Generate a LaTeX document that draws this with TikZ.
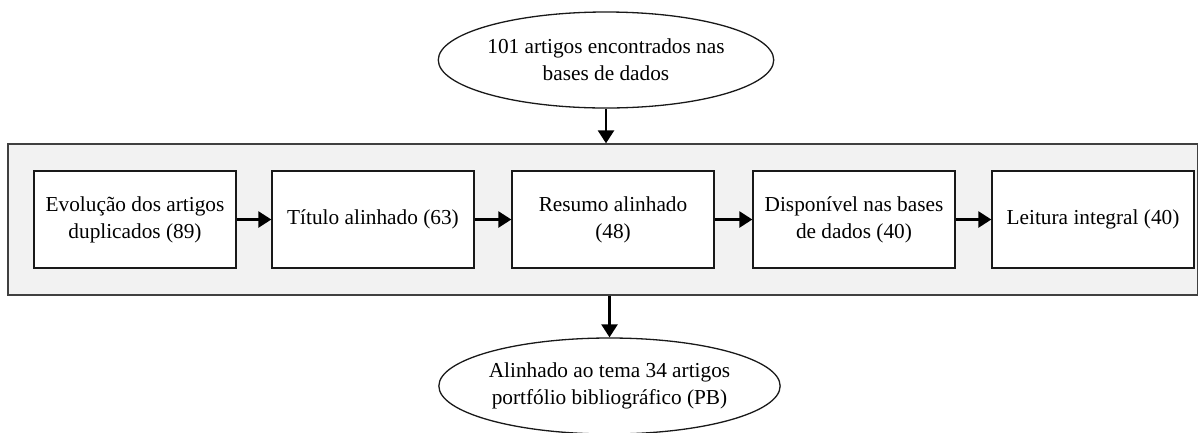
\documentclass[tikz,border=0pt]{standalone}
\usepackage{fontspec}
\setmainfont{Liberation Serif}
\usetikzlibrary{shapes.geometric,arrows.meta}
\tikzset{
  texto/.style={font=\fontsize{21.3}{27}\selectfont, align=center},
  fundo/.style={draw=black!75, fill=black!5, line width=1.3pt,
                minimum width=1190pt, minimum height=151pt, inner sep=0pt},
  etapa/.style={texto, draw=black!90, fill=white, line width=1.3pt,
                minimum width=202pt, minimum height=97pt, inner sep=0pt},
  oval/.style={texto, ellipse, draw=black!90, fill=white, line width=1.3pt,
               inner sep=0pt},
  seta/.style={line width=2.5pt, -{Triangle[length=13pt,width=16pt]}}
}
\begin{document}
\begin{tikzpicture}[x=1pt, y=-1pt]
\useasboundingbox (0,0) rectangle (1198,432);

% faixa cinza com as etapas
\node[fundo, name=bloco] at (603,219.5) {};

\node[oval, name=inicio, minimum width=330pt, minimum height=96pt]
  at (606,60) {101 artigos encontrados nas\\bases de dados};

\foreach [count=\i] \x/\t in
                  {135/{Evolução dos artigos\\duplicados (89)},
                   373/{Título alinhado (63)},
                   613/{Resumo alinhado\\(48)},
                   854/{Disponível nas bases\\de dados (40)},
                   1093/{Leitura integral (40)}}
  {
   \node [etapa, name=e-\i] at (\x,219.5) {\t};
  }

\node[oval, name=fim, minimum width=335pt, minimum height=96pt]
  at (609.5,386) {Alinhado ao tema 34 artigos\\portfólio bibliográfico (PB)};

\foreach \a/\b in {1/2,2/3,3/4,4/5}
  \draw[seta] (e-\a) -- (e-\b);

\draw[seta] (inicio) -- (inicio |- bloco.north);
\draw[seta] (fim |- bloco.south) -- (fim);

\end{tikzpicture}
\end{document}
